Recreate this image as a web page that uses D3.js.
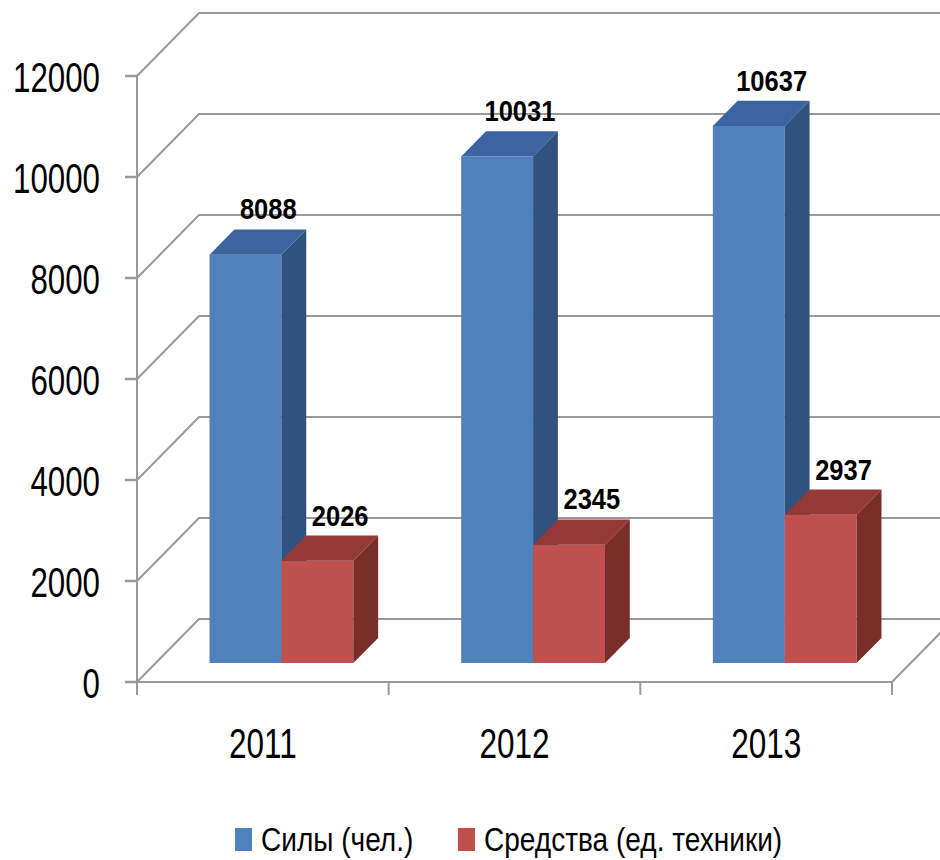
<!DOCTYPE html>
<html>
<head>
<meta charset="utf-8">
<script src="https://cdnjs.cloudflare.com/ajax/libs/d3/7.8.5/d3.min.js"></script>
<style>
  html, body { margin: 0; padding: 0; background: #fff; }
  svg { display: block; font-family: "Liberation Sans", Arial, sans-serif; }
</style>
</head>
<body>
<div id="chart"></div>
<script>
// chart data
const years = ['2011', '2012', '2013'];
const seriesNames = ['Силы (чел.)', 'Средства (ед. техники)'];
const forces = [8088, 10031, 10637];
const equipment = [2026, 2345, 2937];
const yTicks = [0, 2000, 4000, 6000, 8000, 10000, 12000];

const W = 940, H = 860;

// colours per series: front, top, side
const palette = [
    { front: '#4F81BD', top: '#3B64A0', side: '#30527F' },
    { front: '#C0504D', top: '#953937', side: '#7A2E2C' }
];

const svg = d3.select('#chart').append('svg')
    .attr('width', W)
    .attr('height', H);

// front plane scales
const x = d3.scaleBand().domain(years).range([137, 892]).paddingInner(0).paddingOuter(0);
const xs = d3.scaleBand().domain(seriesNames).range([0, x.bandwidth()]).paddingInner(0).paddingOuter(0.75);
const y = d3.scaleLinear().domain([0, 12000]).range([682, 76]);

// oblique depth projection (0 = front, 1 = back wall)
const depthX = d3.scaleLinear().domain([0, 1]).range([0, 62]);
const depthY = d3.scaleLinear().domain([0, 1]).range([0, -63]);
const P = (px, v, d) => [px + depthX(d), y(v) + depthY(d)];

const gridColor = '#999';
const grid = svg.append('g');

// gridlines: left wall diagonal + back wall horizontal
yTicks.forEach(t => {
    const a = P(x.range()[0], t, 0), b = P(x.range()[0], t, 1), c = P(x.range()[1], t, 1);
    grid.append('polyline')
        .attr('points', [a, b, c].map(p => p.join(',')).join(' '))
        .attr('fill', 'none')
        .attr('stroke', gridColor)
        .attr('stroke-width', 2);
});

// floor front edge and right edge
const f0 = P(x.range()[0], 0, 0), f1 = P(x.range()[1], 0, 0), f2 = P(x.range()[1], 0, 1);
grid.append('polyline')
    .attr('points', [f0, f1, f2].map(p => p.join(',')).join(' '))
    .attr('fill', 'none').attr('stroke', gridColor).attr('stroke-width', 2);

// vertical value axis
grid.append('line')
    .attr('x1', 137).attr('x2', 137)
    .attr('y1', y(12000)).attr('y2', y(0) + 8)
    .attr('stroke', gridColor).attr('stroke-width', 2);

// value ticks
yTicks.forEach(t => {
    grid.append('line')
        .attr('x1', 125).attr('x2', 137)
        .attr('y1', y(t)).attr('y2', y(t))
        .attr('stroke', gridColor).attr('stroke-width', 2.5);
});

// category ticks
const catEdges = years.map(c => x(c)).concat([x.range()[1]]);
catEdges.forEach(cx => {
    grid.append('line')
        .attr('x1', cx).attr('x2', cx)
        .attr('y1', y(0)).attr('y2', y(0) + 13)
        .attr('stroke', gridColor).attr('stroke-width', 2);
});

// value axis labels
svg.append('g').selectAll('text')
    .data(yTicks).enter().append('text')
    .attr('transform', t => `translate(100, ${y(t) + 16}) scale(0.745, 1)`)
    .attr('text-anchor', 'end')
    .attr('font-size', 42)
    .attr('fill', '#000')
    .text(t => t);

// category labels
svg.append('g').selectAll('text')
    .data(years).enter().append('text')
    .attr('transform', c => `translate(${x(c) + x.bandwidth() / 2}, 758) scale(0.75, 1)`)
    .attr('text-anchor', 'middle')
    .attr('font-size', 42)
    .attr('fill', '#000')
    .text(c => c);

// bars
const d0 = 0.3, d1 = 0.7;
const bars = [];
years.forEach((yr, i) => {
    [forces, equipment].forEach((arr, s) => {
        bars.push({ year: yr, series: seriesNames[s], s: s, value: arr[i] });
    });
});

const barLayer = svg.append('g');
const pts = a => a.map(p => p.join(',')).join(' ');

bars.forEach(b => {
    const xl = x(b.year) + xs(b.series);
    const xr = xl + xs.bandwidth();
    const g = barLayer.append('g');
    const col = palette[b.s];
    // front face
    g.append('polygon')
        .attr('points', pts([P(xl, 0, d0), P(xr, 0, d0), P(xr, b.value, d0), P(xl, b.value, d0)]))
        .attr('fill', col.front);
    // top face
    g.append('polygon')
        .attr('points', pts([P(xl, b.value, d0), P(xr, b.value, d0), P(xr, b.value, d1), P(xl, b.value, d1)]))
        .attr('fill', col.top);
    // side face
    g.append('polygon')
        .attr('points', pts([P(xr, 0, d0), P(xr, 0, d1), P(xr, b.value, d1), P(xr, b.value, d0)]))
        .attr('fill', col.side);

    // value label above back top edge
    const lp = P((xl + xr) / 2, b.value, d1);
    barLayer.append('text')
        .attr('transform', `translate(${lp[0] - 2}, ${lp[1] - 10}) scale(0.85, 1)`)
        .attr('text-anchor', 'middle')
        .attr('font-size', 30)
        .attr('font-weight', 'bold')
        .attr('fill', '#000')
        .text(b.value);
});

// legend
const legend = svg.append('g');
const legendItems = [
    { name: seriesNames[0], sx: 235, tx: 261, color: palette[0].front },
    { name: seriesNames[1], sx: 458, tx: 484, color: palette[1].front }
];
legendItems.forEach(it => {
    legend.append('rect')
        .attr('x', it.sx).attr('y', 828)
        .attr('width', 17).attr('height', 23)
        .attr('fill', it.color);
    legend.append('text')
        .attr('transform', `translate(${it.tx}, 851) scale(0.85, 1)`)
        .attr('font-size', 33)
        .attr('fill', '#000')
        .text(it.name);
});
</script>
</body>
</html>
